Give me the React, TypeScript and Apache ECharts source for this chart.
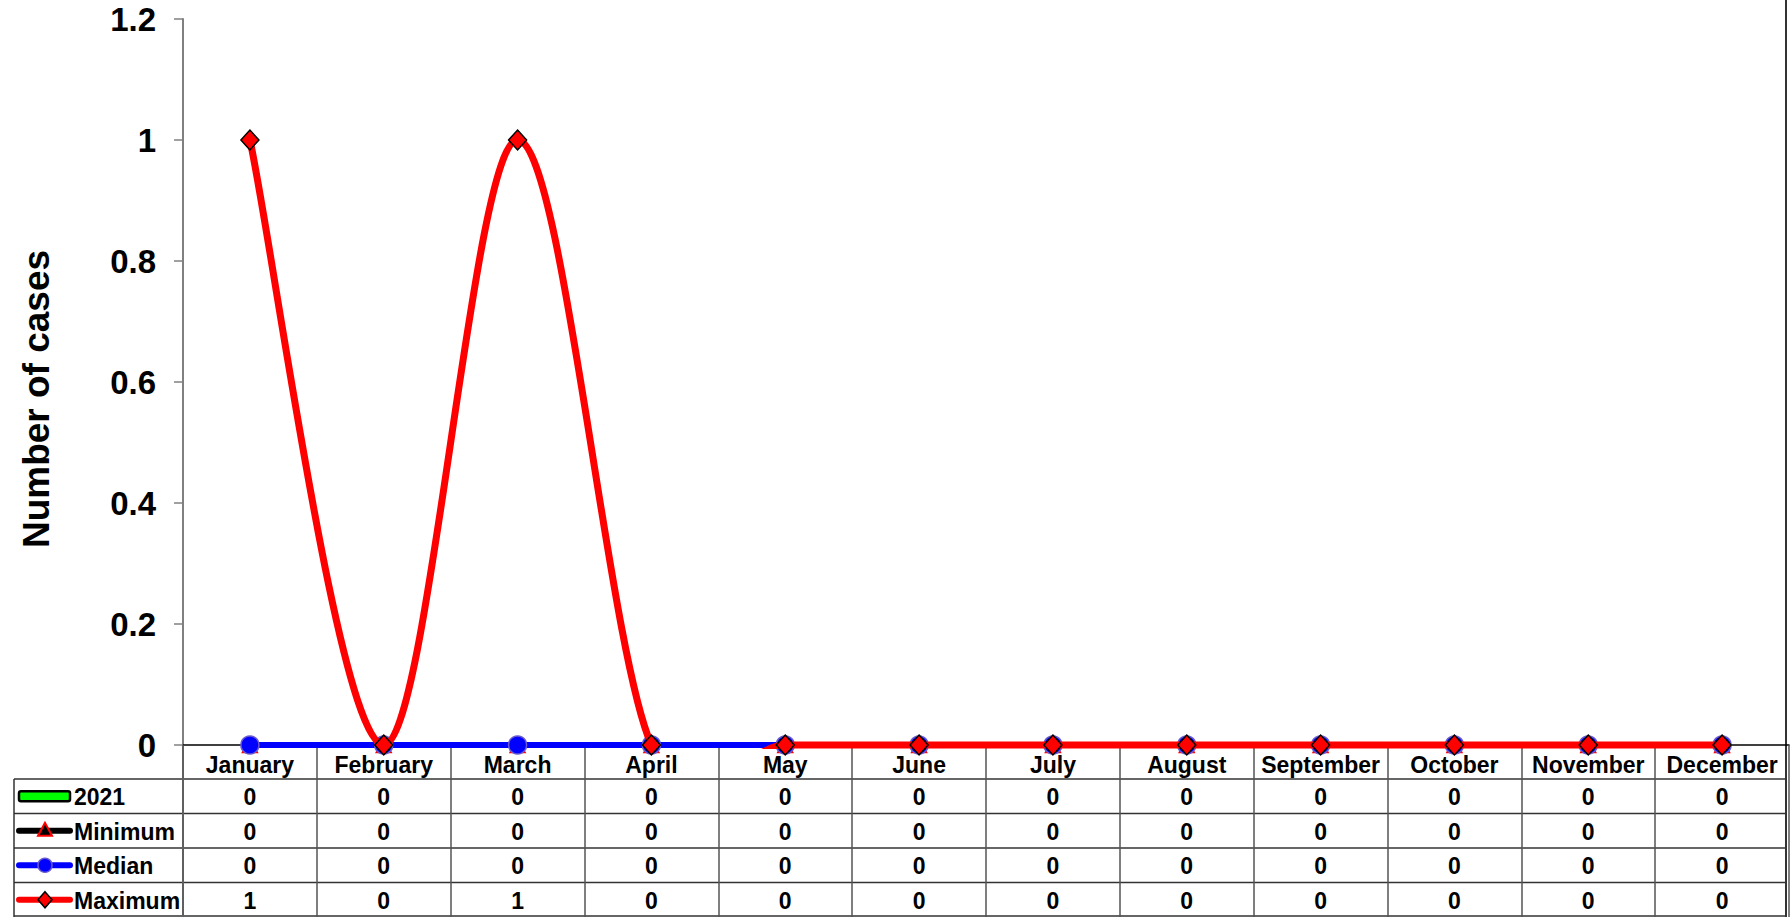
import React, { useEffect, useRef } from "react";
import * as echarts from "echarts";

const months = [
  "January", "February", "March", "April", "May", "June",
  "July", "August", "September", "October", "November", "December",
];
const cases2021 = [0, 0, 0, 0, 0, 0, 0, 0, 0, 0, 0, 0];
const minimum = [0, 0, 0, 0, 0, 0, 0, 0, 0, 0, 0, 0];
const median = [0, 0, 0, 0, 0, 0, 0, 0, 0, 0, 0, 0];
const maximum = [1, 0, 1, 0, 0, 0, 0, 0, 0, 0, 0, 0];

const rowNames = ["2021", "Minimum", "Median", "Maximum"];
const rowData = [cases2021, minimum, median, maximum];

const W = 1791;
const H = 917;
const GRID_LEFT = 183;
const GRID_RIGHT = 2;
const GRID_TOP = 19;
const GRID_BOTTOM = 172;
const HEADER_H = 34;
const ROW_H = 34.5;
const TABLE_LEFT = 14;
const FONT = '"Liberation Sans", Arial, Helvetica, sans-serif';

export default function App() {
  const ref = useRef<HTMLDivElement>(null);

  useEffect(() => {
    if (!ref.current) return;
    const chart = echarts.init(ref.current, null, { renderer: "svg" });

    // Excel-style smoothed segment (Catmull-Rom as cubic Bezier), one per data point
    const renderSmooth = (params: any, api: any) => {
      const i = params.dataIndex;
      const n = maximum.length;
      if (i >= n - 1) return null;
      const cs = params.coordSys;
      const p = (k: number) => {
        const kk = Math.max(0, Math.min(n - 1, k));
        return api.coord([kk, maximum[kk]]);
      };
      const p0 = p(i - 1);
      const p1 = p(i);
      const p2 = p(i + 1);
      const p3 = p(i + 2);
      return {
        type: "bezierCurve",
        z2: 50,
        shape: {
          x1: p1[0],
          y1: p1[1],
          cpx1: p1[0] + (p2[0] - p0[0]) / 6,
          cpy1: p1[1] + (p2[1] - p0[1]) / 6,
          cpx2: p2[0] - (p3[0] - p1[0]) / 6,
          cpy2: p2[1] - (p3[1] - p1[1]) / 6,
          x2: p2[0],
          y2: p2[1],
        },
        clipPath: {
          type: "rect",
          shape: { x: cs.x - 10, y: cs.y - 10, width: cs.width + 20, height: cs.height + 14 },
        },
        style: { stroke: "#ff0000", lineWidth: 7, fill: "none", lineCap: "round" },
      };
    };

    const option: any = {
      animation: false,
      backgroundColor: "#ffffff",
      grid: {
        left: GRID_LEFT,
        right: GRID_RIGHT,
        top: GRID_TOP,
        bottom: GRID_BOTTOM,
        containLabel: false,
      },
      xAxis: {
        type: "category",
        data: months,
        boundaryGap: true,
        axisLine: { show: true, lineStyle: { color: "#000000", width: 1.5 } },
        axisTick: {
          show: true,
          interval: 0,
          length: GRID_BOTTOM,
          lineStyle: { color: "#555555", width: 1.5 },
        },
        axisLabel: {
          interval: 0,
          margin: 8,
          fontSize: 23,
          fontWeight: "bold",
          color: "#000000",
          fontFamily: FONT,
        },
        splitLine: { show: false },
      },
      yAxis: {
        type: "value",
        min: 0,
        max: 1.2,
        interval: 0.2,
        axisLine: { show: true, lineStyle: { color: "#808080", width: 2 } },
        axisTick: { show: true, length: 9, lineStyle: { color: "#808080", width: 1.5 } },
        axisLabel: {
          margin: 27,
          fontSize: 33,
          fontWeight: "bold",
          color: "#000000",
          fontFamily: FONT,
        },
        splitLine: { show: false },
      },
      series: [
        {
          name: "2021",
          type: "bar",
          data: cases2021,
          barWidth: "50%",
          itemStyle: { color: "#00ff00", borderColor: "#000000", borderWidth: 0 },
        },
        {
          name: "Minimum",
          type: "line",
          z: 2,
          data: minimum,
          symbol: "triangle",
          symbolSize: 15,
          lineStyle: { color: "#000000", width: 6 },
          itemStyle: { color: "#000000", borderColor: "#ff0000", borderWidth: 1.5 },
        },
        {
          name: "Median",
          type: "line",
          z: 3,
          data: median,
          symbol: "circle",
          symbolSize: 18,
          lineStyle: { color: "#0000ff", width: 6 },
          itemStyle: { color: "#0000ff", borderColor: "#6a5acd", borderWidth: 1.5 },
        },
        {
          name: "Maximum curve",
          type: "custom",
          z: 4,
          clip: false,
          data: maximum.map((v, i) => [i, v]),
          renderItem: renderSmooth,
          silent: true,
        },
        {
          name: "Maximum",
          type: "line",
          z: 5,
          data: maximum,
          symbol: "diamond",
          symbolSize: [18, 20],
          lineStyle: { color: "#ff0000", width: 0, opacity: 0 },
          itemStyle: { color: "#ff0000", borderColor: "#000000", borderWidth: 1.5 },
        },
      ],
    };
    chart.setOption(option);

    // Data table and axis name, positioned from the chart's own scales
    const xs = months.map((_, i) => chart.convertToPixel({ xAxisIndex: 0 }, i) as number);
    const y0 = chart.convertToPixel({ yAxisIndex: 0 }, 0) as number;
    const yTop = chart.convertToPixel({ yAxisIndex: 0 }, 1.2) as number;
    const rightX = W - GRID_RIGHT - 3;
    const tableTop = y0 + HEADER_H;
    const gfx: any[] = [];
    const lineStyle = { stroke: "#333333", lineWidth: 1.5 };

    for (let r = 0; r <= rowNames.length; r++) {
      const y = Math.min(tableTop + r * ROW_H, H - 1);
      gfx.push({ type: "line", shape: { x1: TABLE_LEFT, y1: y, x2: rightX, y2: y }, style: lineStyle, silent: true });
    }
    gfx.push({ type: "line", shape: { x1: TABLE_LEFT, y1: tableTop, x2: TABLE_LEFT, y2: H }, style: lineStyle });
    gfx.push({ type: "line", shape: { x1: rightX, y1: 0, x2: rightX, y2: H }, style: { stroke: "#333333", lineWidth: 2 } });
    gfx.push({ type: "line", shape: { x1: GRID_LEFT, y1: y0, x2: GRID_LEFT, y2: H }, style: { stroke: "#808080", lineWidth: 2 } });

    const textStyle = (t: string, x: number, y: number, align: string) => ({
      type: "text",
      x,
      y,
      style: {
        text: t,
        fill: "#000000",
        font: `bold 23px ${FONT}`,
        align,
        verticalAlign: "middle",
      },
    });

    rowNames.forEach((name, r) => {
      const cy = tableTop + r * ROW_H + ROW_H / 2;
      rowData[r].forEach((v, i) => {
        gfx.push(textStyle(String(v), xs[i], cy + 1, "center"));
      });
      gfx.push(textStyle(name, 74, cy + 1, "left"));
      const ix1 = 19;
      const ix2 = 70;
      const cx = 45;
      if (r === 0) {
        gfx.push({
          type: "rect",
          shape: { x: ix1, y: cy - 5, width: ix2 - ix1, height: 10, r: 2 },
          style: { fill: "#00ff00", stroke: "#000000", lineWidth: 2.5 },
        });
      } else if (r === 1) {
        gfx.push({ type: "line", shape: { x1: ix1, y1: cy, x2: ix2, y2: cy }, style: { stroke: "#000000", lineWidth: 6, lineCap: "round" } });
        gfx.push({
          type: "polygon",
          shape: { points: [[cx, cy - 8], [cx - 7, cy + 5], [cx + 7, cy + 5]] },
          style: { fill: "#000000", stroke: "#ff0000", lineWidth: 2 },
        });
      } else if (r === 2) {
        gfx.push({ type: "line", shape: { x1: ix1, y1: cy, x2: ix2, y2: cy }, style: { stroke: "#0000ff", lineWidth: 6, lineCap: "round" } });
        gfx.push({ type: "circle", shape: { cx, cy, r: 7 }, style: { fill: "#0000ff", stroke: "#6a5acd", lineWidth: 1.5 } });
      } else {
        gfx.push({ type: "line", shape: { x1: ix1, y1: cy, x2: ix2, y2: cy }, style: { stroke: "#ff0000", lineWidth: 6, lineCap: "round" } });
        gfx.push({
          type: "polygon",
          shape: { points: [[cx, cy - 8], [cx + 7, cy], [cx, cy + 8], [cx - 7, cy]] },
          style: { fill: "#ff0000", stroke: "#000000", lineWidth: 1.5 },
        });
      }
    });

    gfx.push({
      type: "text",
      x: 36,
      y: (yTop + y0) / 2 + 17,
      rotation: Math.PI / 2,
      style: {
        text: "Number of cases",
        fill: "#000000",
        font: `bold 37px ${FONT}`,
        align: "center",
        verticalAlign: "middle",
      },
    });

    chart.setOption({ graphic: { elements: gfx } });

    return () => chart.dispose();
  }, []);

  return (
    <div
      ref={ref}
      style={{ position: "fixed", left: 0, top: 0, width: W, height: H, background: "#ffffff" }}
    />
  );
}
